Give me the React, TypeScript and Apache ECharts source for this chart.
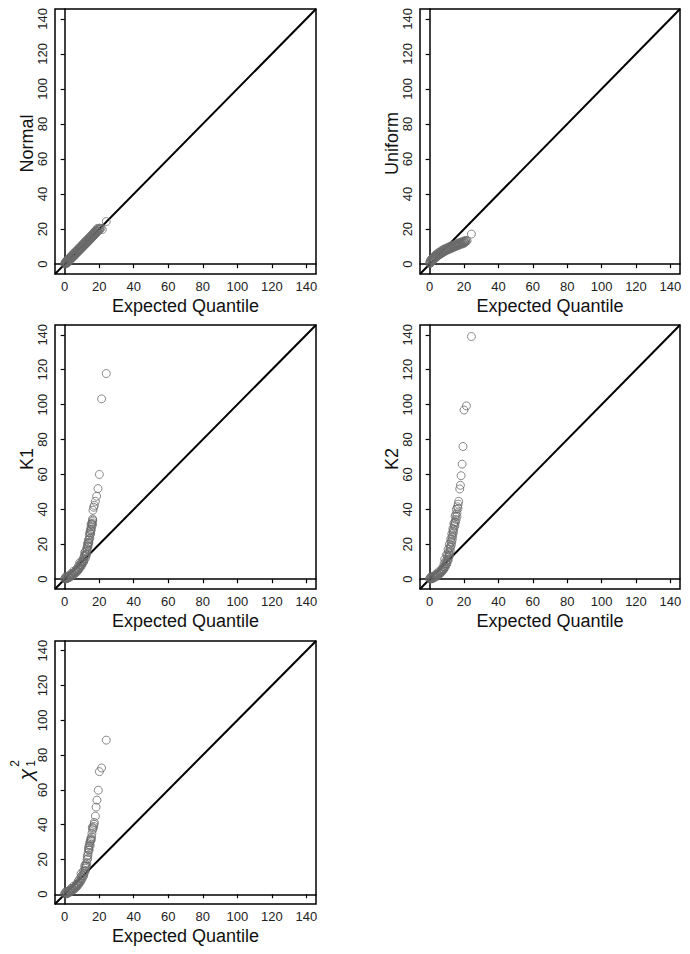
import React, { useEffect, useRef } from "react";
import * as echarts from "echarts";

const tickValues = [0, 20, 40, 60, 80, 100, 120, 140];
const axisRange = [-5.6, 145.6];
const xAxisTitle = "Expected Quantile";
const panelTitles = ["Normal", "Uniform", "K1", "K2", "χ"];

const normalPoints: [number, number][] = [
  [0, 0.3], [0.2, 0], [0.5, 0.8], [0.8, 0.4], [1, 1.3], [1.3, 0.9], [1.6, 1.8], [2, 1.5], [2.3, 2.5], [2.6, 2.1],
  [3, 3.2], [3.3, 2.8], [3.7, 3.9], [4, 3.5], [4.4, 4.6], [4.8, 4.3], [5.2, 5.4], [5.5, 5.0], [6, 6.2], [6.3, 5.8],
  [6.8, 7.0], [7.1, 6.6], [7.6, 7.8], [8, 7.4], [8.5, 8.7], [8.9, 8.3], [9.4, 9.6], [9.8, 9.2], [10.3, 10.5], [10.7, 10.1],
  [11.2, 11.4], [11.6, 11.0], [12.1, 12.3], [12.5, 11.9], [13, 13.2], [13.4, 12.8], [13.9, 14.1], [14.3, 13.7], [14.8, 15.0], [15.2, 14.7],
  [15.7, 16.0], [16.1, 15.6], [16.6, 17.0], [17, 16.5], [17.5, 17.9], [17.9, 17.6], [18.4, 19.0], [18.8, 18.6], [19.3, 20.0], [19.8, 19.6],
  [20.3, 20.6], [21.8, 19.8], [24.1, 24.3],
  [0.4, 1.2], [1.1, 1.9], [1.8, 2.7], [2.5, 3.3], [3.2, 4.0], [4.0, 4.9], [4.7, 5.6], [5.5, 6.4], [6.2, 7.0], [7.0, 7.9],
  [7.8, 8.7], [8.6, 9.5], [9.4, 10.3], [10.2, 11.1], [11.0, 12.0], [11.8, 12.8], [12.6, 13.6], [13.4, 14.4], [14.2, 15.2], [15.0, 16.0],
  [15.8, 16.9], [16.6, 17.8], [17.4, 18.6], [18.2, 19.4], [19.0, 20.4],
  [1.3, 0.5], [2.2, 1.4], [3.0, 2.3], [3.8, 3.1], [4.6, 3.9], [5.4, 4.6], [6.2, 5.4], [7.0, 6.3], [7.8, 7.1], [8.6, 7.9],
  [9.4, 8.7], [10.2, 9.5], [11.0, 10.3], [11.8, 11.1], [12.6, 11.9], [13.4, 12.7], [14.2, 13.5], [15.0, 14.3], [15.8, 15.1], [16.6, 16.0],
  [17.4, 16.8], [18.2, 17.6], [19.2, 18.6], [20.2, 19.8], [21.0, 20.4],
];

const uniformPoints: [number, number][] = [
  [0, 0.4], [0.2, 1.2], [0.4, 2], [0.6, 0.8], [0.9, 2.6], [1.2, 1.6], [1.5, 3.2], [1.9, 2.4], [2.3, 3.8], [2.7, 3.3],
  [3.1, 4.5], [3.5, 4.0], [4, 5.2], [4.4, 4.7], [4.9, 5.8], [5.4, 5.4], [5.9, 6.5], [6.4, 6.1], [7, 7.1], [7.5, 6.8],
  [8.1, 7.7], [8.6, 7.4], [9.2, 8.3], [9.8, 8.0], [10.4, 8.9], [11, 8.6], [11.6, 9.4], [12.2, 9.2], [12.8, 9.9], [13.4, 9.7],
  [14, 10.4], [14.6, 10.2], [15.2, 10.9], [15.8, 10.7], [16.4, 11.3], [17, 11.2], [17.6, 11.8], [18.2, 11.7], [18.8, 12.2], [19.4, 12.1],
  [20, 12.6], [20.6, 12.8], [21.2, 13.1], [21.8, 13.4], [24.3, 17.2],
  [0.5, 0.6], [1, 2.7], [1.5, 1.8], [2, 3.7], [2.5, 2.8], [3, 4.7], [3.5, 3.7], [4, 5.8], [4.5, 4.5], [5, 6.5],
  [5.5, 5.3], [6, 7.1], [6.5, 5.9], [7, 7.8], [7.5, 6.4], [8, 8.4], [8.5, 7.1], [9, 8.9], [9.5, 7.7], [10, 9.3],
  [10.5, 8.1], [11, 9.8], [11.5, 8.5], [12, 10.2], [12.5, 8.9], [13, 10.6], [13.5, 9.4], [14, 11.0], [14.5, 9.8], [15, 11.4],
  [15.5, 10.2], [16, 11.8], [16.5, 10.6], [17, 12.2], [17.5, 11.0], [18, 12.5], [18.5, 11.4], [19, 12.9], [19.5, 11.7], [20, 13.2],
  [20.5, 12.2], [21, 13.6],
];

const k1Points: [number, number][] = [
  [0, 0.2], [0.3, 0.8], [0.6, 0.1], [1, 0.9], [1.4, 0.4], [1.8, 1.4], [2.2, 0.8], [2.6, 1.8], [3, 1.2], [3.5, 2.4],
  [4, 1.8], [4.5, 3.0], [5, 2.5], [5.5, 3.8], [6, 3.3], [6.5, 4.7], [7, 4.2], [7.5, 5.8], [8, 5.3], [8.5, 7.0],
  [8.7, 9.5], [9, 6.6], [9.5, 8.5], [10, 8.1], [10.5, 10.2], [11, 9.9], [11.3, 13.0], [11.6, 15.2], [12, 12.0], [12.2, 14.4],
  [12.6, 14.3], [13, 17.0], [13.3, 19.0], [13.5, 20.9], [13.9, 20.4], [14.2, 23.0], [14.5, 26.6], [14.8, 26.5], [15.1, 27.8], [15.4, 30.0],
  [15.7, 31.5], [16, 33.0], [16.3, 33.8], [16.4, 39.5], [16.8, 41.2], [17.2, 42.3], [17.8, 44.6], [18.5, 47.5], [19.3, 51.9], [20.1, 60],
  [21.4, 103.3], [24.1, 117.8],
  [0.8, 1.5], [1.6, 0.6], [2.4, 1.9], [3.2, 2.0], [3.8, 3.3], [4.8, 3.0], [5.2, 4.6], [6.2, 4.0], [6.8, 5.6], [7.2, 5.0],
  [7.8, 7.2], [8.2, 6.2], [8.8, 8.3], [9.2, 7.6], [9.8, 10.0], [10.2, 9.2], [10.8, 11.8], [11.2, 11.0], [11.6, 13.6], [12, 15.8],
  [12.4, 13.4], [12.8, 17.8], [12.9, 15.8], [13.2, 20], [13.5, 18.6], [13.8, 22.5], [14.0, 21.2], [14.3, 25], [14.6, 23.5], [14.9, 28.5],
  [15.0, 25.8], [15.3, 31.5], [15.5, 28.5], [15.9, 32], [16.1, 31], [16.2, 34.5],
];

const k2Points: [number, number][] = [
  [0, 0.2], [0.3, 0.8], [0.6, 0.1], [1, 0.8], [1.4, 0.3], [1.8, 1.3], [2.2, 0.7], [2.6, 1.7], [3, 1.1], [3.5, 2.2],
  [4, 1.6], [4.5, 2.8], [5, 2.3], [5.5, 3.6], [6, 3.1], [6.5, 4.5], [7, 4.1], [7.5, 5.7], [8, 5.3], [8.5, 7.1],
  [8.75, 11.4], [9, 6.8], [9.5, 8.9], [9.8, 14.0], [10, 8.7], [10.4, 11.0], [10.7, 17.1], [10.8, 11.0], [11.2, 13.4], [11.5, 20.0],
  [11.6, 13.6], [12, 16.2], [12.3, 23.0], [12.6, 19.5], [12.9, 26.0], [13.2, 22.8], [13.5, 29.0], [13.8, 26.6], [14.1, 32.0], [14.6, 30.4],
  [15, 32.5], [15.4, 34.2], [15.9, 36.0], [15.9, 38.0], [16.5, 40.5], [16.9, 44.6], [17.5, 51.7], [17.9, 53.8], [18.3, 59.3], [18.9, 65.9],
  [19.4, 76.0], [20.0, 96.9], [21.4, 99.3], [24.3, 139.0],
  [0.8, 1.4], [1.6, 0.5], [2.4, 1.8], [3.2, 1.7], [3.8, 3.0], [4.8, 2.9], [5.2, 4.3], [6.2, 3.8], [6.8, 5.4], [7.2, 4.8],
  [7.8, 7.0], [8.2, 6.0], [8.4, 8.8], [9.2, 7.8], [9.4, 10.4], [10.2, 10], [10.2, 13.4], [11, 12.5], [11.0, 15.8], [11.4, 15],
  [11.8, 18.5], [12.1, 18], [12.4, 21.5], [12.8, 21], [13, 24], [13.4, 25], [13.6, 27.5], [14, 28.5], [14.3, 31], [14.8, 33],
  [14.8, 36], [15.2, 37], [15.5, 40], [16.2, 41.5], [16.6, 43],
];

const chiPoints: [number, number][] = [
  [0, 0.2], [0.3, 0.9], [0.6, 0.1], [1, 1], [1.4, 0.4], [1.8, 1.5], [2.2, 0.8], [2.6, 1.9], [3, 1.2], [3.5, 2.5],
  [4, 1.8], [4.5, 3.1], [5, 2.5], [5.5, 3.9], [6, 3.3], [6.5, 4.8], [6.8, 5.7], [7, 4.3], [7.5, 6], [8, 5.5],
  [8.5, 7.2], [9, 6.9], [9.7, 10.5], [10, 8.6], [10.5, 11], [11, 10.6], [11.5, 13], [11.6, 16.2], [12, 13.5], [12.4, 16],
  [12.8, 18], [13.1, 21.9], [13.3, 20.5], [13.6, 24], [13.9, 25.5], [14.1, 27.6], [14.4, 28.5], [14.9, 30.5], [15.2, 31], [15.6, 33],
  [16.2, 37.1], [16.8, 39], [17.2, 41.3], [17.8, 44.9], [18.2, 50.1], [18.7, 54.1], [19.5, 59.8], [20.1, 70.5], [21.4, 72.6], [24.1, 88.6],
  [0.8, 1.5], [1.6, 0.6], [2.4, 2], [3.2, 2.1], [3.8, 3.4], [4.8, 3.1], [5.2, 4.7], [6.2, 4.1], [7.2, 5.3], [7.8, 7.5],
  [8.2, 6.4], [8.8, 9], [9.2, 7.8], [9.5, 11.8], [10.2, 9.6], [10.8, 13.2], [11.2, 11.8], [11.9, 15], [12.2, 17.4], [12.6, 16.5],
  [13, 20], [13.5, 22.5], [13.8, 26.5], [14.2, 25.5], [14.5, 29.6], [14.8, 28], [15.1, 32], [15.4, 31.5], [15.8, 35], [16.0, 38.5],
  [16.5, 38], [17.0, 40.2],
];

const panelData = [normalPoints, uniformPoints, k1Points, k2Points, chiPoints];

const grids = [
  { left: 55, top: 9, width: 261, height: 265 },
  { left: 420, top: 9, width: 260, height: 265 },
  { left: 55, top: 325, width: 261, height: 264 },
  { left: 420, top: 325, width: 260, height: 264 },
  { left: 55, top: 641, width: 261, height: 263 },
];

const FONT = "Liberation Sans, Arial, sans-serif";

export default function App() {
  const ref = useRef<HTMLDivElement>(null);
  useEffect(() => {
    if (!ref.current) return;
    const chart = echarts.init(ref.current, null, { renderer: "svg" });
    const xAxes: any[] = [];
    const yAxes: any[] = [];
    const series: any[] = [];
    const graphics: any[] = [];
    grids.forEach((g, i) => {
      const common = {
        gridIndex: i,
        type: "value",
        min: axisRange[0],
        max: axisRange[1],
        axisLine: { show: true, lineStyle: { color: "#000", width: 1.5 } },
        axisTick: { show: true, length: 4, customValues: tickValues, lineStyle: { color: "#000", width: 1.2 } },
        splitLine: { show: false },
      };
      xAxes.push({
        ...common,
        position: "bottom",
        axisLabel: { customValues: tickValues, margin: 6, fontSize: 13, color: "#222", fontFamily: FONT },
      });
      yAxes.push({
        ...common,
        position: "left",
        axisLabel: { customValues: tickValues, rotate: 90, margin: 6, fontSize: 13, color: "#222", fontFamily: FONT },
      });
      series.push({
        type: "line",
        xAxisIndex: i,
        yAxisIndex: i,
        data: [
          [axisRange[0], axisRange[0]],
          [axisRange[1], axisRange[1]],
        ],
        showSymbol: false,
        symbol: "none",
        lineStyle: { color: "#000", width: 2 },
        z: 1,
        silent: true,
      });
      series.push({
        type: "scatter",
        xAxisIndex: i,
        yAxisIndex: i,
        data: panelData[i],
        symbol: "circle",
        symbolSize: 8,
        itemStyle: { color: "rgba(0,0,0,0)", borderColor: "#6a6a6a", borderWidth: 1 },
        z: 2,
        silent: true,
      });
      graphics.push({
        type: "text",
        x: g.left + g.width / 2,
        y: g.top + g.height + 32,
        style: {
          text: xAxisTitle,
          font: `18px ${FONT}`,
          fill: "#111",
          textAlign: "center",
          textVerticalAlign: "middle",
        },
      });
      if (i < 4) {
        graphics.push({
          type: "text",
          x: g.left - 28,
          y: g.top + g.height / 2 + 2,
          rotation: Math.PI / 2,
          style: {
            text: panelTitles[i],
            font: `18px ${FONT}`,
            fill: "#111",
            textAlign: "center",
            textVerticalAlign: "middle",
          },
        });
      } else {
        graphics.push({
          type: "text",
          x: g.left - 30,
          y: g.top + g.height / 2 + 2,
          rotation: Math.PI / 2,
          style: {
            text: panelTitles[i],
            font: `italic 21px ${FONT}`,
            fill: "#111",
            textAlign: "center",
            textVerticalAlign: "middle",
          },
        });
        graphics.push({
          type: "text",
          x: g.left - 40,
          y: g.top + g.height / 2 - 9,
          rotation: Math.PI / 2,
          style: { text: "2", font: `12px ${FONT}`, fill: "#111", textAlign: "center", textVerticalAlign: "middle" },
        });
        graphics.push({
          type: "text",
          x: g.left - 24,
          y: g.top + g.height / 2 - 9,
          rotation: Math.PI / 2,
          style: { text: "1", font: `12px ${FONT}`, fill: "#111", textAlign: "center", textVerticalAlign: "middle" },
        });
      }
    });

    chart.setOption({
      animation: false,
      backgroundColor: "#fff",
      grid: grids.map((g) => ({ ...g, show: true, borderColor: "#000", borderWidth: 1.5, backgroundColor: "transparent" })),
      xAxis: xAxes,
      yAxis: yAxes,
      series,
      graphic: graphics,
    });
    return () => chart.dispose();
  }, []);
  return <div ref={ref} style={{ position: "absolute", left: 0, top: 0, width: 690, height: 954 }} />;
}
